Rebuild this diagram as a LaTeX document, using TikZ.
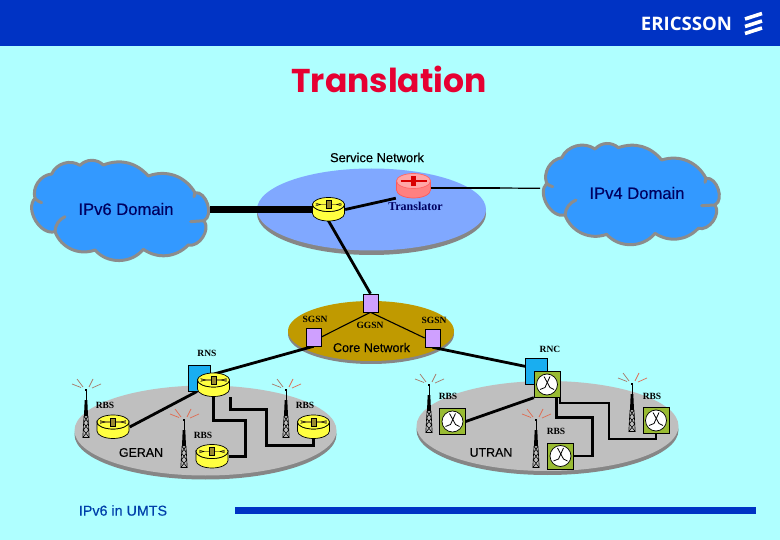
\documentclass[tikz,border=0pt]{standalone}
\usepackage{fontspec}
\setmainfont{Liberation Sans}[FakeBold=0.35]
\newfontfamily\serifl{Liberation Serif}
\newfontfamily\ttlfont{Poppins}
\newfontfamily\logofont{Open Sans}
\definecolor{bgc}{HTML}{AFFFFF}
\definecolor{barc}{HTML}{0033C4}
\definecolor{cloudc}{HTML}{3399FF}
\definecolor{cloude}{HTML}{8C8C8C}
\definecolor{svc}{HTML}{80A8FF}
\definecolor{corec}{HTML}{C09A00}
\definecolor{purp}{HTML}{CFA0FF}
\definecolor{rblue}{HTML}{19AEF0}
\definecolor{grn}{HTML}{99BB33}
\definecolor{navy}{HTML}{000060}
\definecolor{yel}{HTML}{FFFF40}
\definecolor{oliv}{HTML}{9A8A30}
\definecolor{raya}{HTML}{A87868}
\definecolor{rayb}{HTML}{E06A50}
\tikzset{
  hit/.style={rectangle,inner sep=0pt,minimum width=33pt,minimum height=24pt},
  sq/.style={rectangle,inner sep=0pt,minimum size=26pt},
  txt/.style={inner sep=0pt,font=\fontsize{#1}{#1}\selectfont},
  dom/.style={inner sep=0pt,text=navy,font=\fontsize{16.6}{17}\selectfont},
  slab/.style={inner sep=0pt,font=\serifl\bfseries\fontsize{9.5}{10}\selectfont,text=black},
  cloudp/.style={fill=cloudc,draw=cloude,line width=3pt,line join=round},
  curl/.style={draw=cloude,line width=3pt,line cap=round},
  link/.style={draw=black,line width=2.8pt,line join=miter},
  thinlink/.style={draw=black,line width=1.1pt},
  pbox/.style={rectangle,inner sep=0pt,fill=purp,draw=black,line width=.6pt,minimum width=15pt,minimum height=18pt},
  bbox/.style={rectangle,inner sep=0pt,fill=rblue,draw=black,line width=.6pt,minimum width=22pt,minimum height=26pt},
}
\newcommand{\plat}[5]{% cx cy rx ry colour
  \fill[#5] (#1,#2) ellipse [x radius=#3,y radius=#4];}
\newcommand{\routerdraw}[4]{% x y body top
 \begin{scope}[shift={(#1,#2)}]
  \path[fill=#3,draw=black,line width=.7pt] (-16,-5) -- (-16,4) arc[x radius=16,y radius=7.5,start angle=180,end angle=0] -- (16,-5) arc[x radius=16,y radius=7,start angle=0,end angle=180] -- cycle;
  \path[fill=#4,draw=black,line width=.7pt] (0,-5) ellipse [x radius=16,y radius=7];
  \draw[oliv,line width=1.2pt] (-13,-5) -- (13,-5);
  \fill[oliv] (-2.5,-9) rectangle (2.5,-1);
  \draw[black,line width=.4pt] (-2.5,-9) rectangle (2.5,-1);
  \draw[black,line width=.4pt] (-13,-6.5) -- (-8,-5) -- (-13,-3.5) (13,-6.5) -- (8,-5) -- (13,-3.5);
 \end{scope}}
\newcommand{\transdraw}[2]{%
 \begin{scope}[shift={(#1,#2)}]
  \path[fill=red!50!white,draw=red!65!white,line width=.7pt] (-17,-5) -- (-17,4) arc[x radius=17,y radius=8,start angle=180,end angle=0] -- (17,-5) arc[x radius=17,y radius=7,start angle=0,end angle=180] -- cycle;
  \path[fill=red!35!white,draw=red!60!white,line width=.7pt] (0,-5) ellipse [x radius=17,y radius=7.5];
  \draw[red!85!black,line width=1.4pt] (-13,-5) -- (13,-5);
  \fill[red!85!black] (-2.5,-10) rectangle (2.5,0);
 \end{scope}}
\newcommand{\switchdraw}[2]{%
 \begin{scope}[shift={(#1,#2)}]
  \path[fill=grn,draw=black,line width=.6pt] (-13,-13) rectangle (13,13);
  \path[fill=white,draw=black,line width=.7pt] (0,0) circle (10.5);
  \draw[black,line width=.8pt] (-3,-8) -- (3,3) -- (7,5);
  \draw[black,line width=.8pt] (3,-8) -- (-2,3) -- (-7,5);
 \end{scope}}
\newcommand{\towerdraw}[4]{% x y(tip) col1 col2
 \begin{scope}[shift={(#1,#2)}]
  \draw[#3,line width=.7pt] (-14,-6) -- (-5,-2.5) (-9,-11) -- (-3,-3);
  \draw[#4,line width=.7pt] (7,-11) -- (3,-3) (15,-6) -- (6,-2);
  \fill[black] (-.5,0) rectangle (.5,10);
  \fill[black] (-1.2,-.8) rectangle (1.2,.8);
  \fill[black] (-1.3,10) -- (1.3,10) -- (2,26) -- (-2,26) -- cycle;
  \draw[black,line width=.6pt] (-2,26) -- (-3.2,47.5) -- (3.2,47.5) -- (2,26) (-2,26) -- (2.4,33) -- (-2.6,40) -- (3.2,47.5) (2,26) -- (-2.4,33) -- (2.6,40) -- (-3.2,47.5);
 \end{scope}}
\begin{document}
\begin{tikzpicture}[x=1pt,y=1pt,yscale=-1]
\useasboundingbox (0,0) rectangle (780,540);
\fill[bgc] (0,0) rectangle (780,540);
\fill[barc] (0,0) rectangle (780,46.5);
\node[inner sep=0pt,text=white,font=\logofont\bfseries\fontsize{18.6}{19}\selectfont] (logo) at (686.5,24) {ERICSSON};
\draw[white,line width=3.6pt] (745,19) -- (762,13.5) (745,26.5) -- (762,21) (745,33.5) -- (762,28);
\node[inner sep=0pt,text={rgb,255:red,230;green,0;blue,50},font=\ttlfont\bfseries\fontsize{33}{35}\selectfont] (title) at (389,79) {Translation};
\node[txt=12.9] (sn) at (377,157.5) {Service Network};
% platforms
\plat{371.5}{213.5}{114.5}{41.5}{gray!95}
\plat{371.5}{209.5}{114.5}{41}{svc}
\plat{371}{334}{83}{30}{gray!95}
\plat{371}{331}{83}{30}{corec}
\plat{205.5}{434.5}{131}{45}{gray!95}
\plat{205.5}{430.5}{131}{45}{gray!50}
\plat{547.5}{430}{131}{45}{gray!95}
\plat{547.5}{426}{131}{45}{gray!50}
% clouds
\begin{scope}[shift={(20,150)},scale=1/3]
 \path[cloudp] (45,145) to[bend right=50] (95,72) to[bend right=50] (180,46) to[bend right=45] (250,45) to[bend right=35] (385,78) to[bend right=40] (525,128) to[bend right=80] (552,212) to[bend right=70] (505,285) to[bend right=40] (370,298) to[bend right=50] (225,300) to[bend right=45] (105,245) to[bend right=75] cycle;
 \path[curl] (45,145) to[bend left=15] (65,158);
 \path[curl] (105,245) to[bend right=30] (135,200);
 \path[curl] (552,212) -- (512,215);
 \path[curl] (525,128) -- (522,140);
 \coordinate (cl) at (570,178);
\end{scope}
\begin{scope}[shift={(530,135)},scale=1/3]
 \path[cloudp] (50,145) to[bend right=50] (95,68) to[bend right=50] (195,42) to[bend right=45] (265,38) to[bend right=35] (395,75) to[bend right=40] (528,130) to[bend right=80] (555,210) to[bend right=70] (505,280) to[bend right=40] (375,295) to[bend right=50] (230,298) to[bend right=45] (105,240) to[bend right=75] cycle;
 \path[curl] (50,145) to[bend left=15] (68,155);
 \path[curl] (105,240) to[bend right=30] (138,195);
 \path[curl] (555,210) -- (515,212);
 \path[curl] (528,130) -- (525,142);
 \coordinate (cr) at (30,160);
\end{scope}
\node[dom] (d6) at (126,209) {IPv6 Domain};
\node[dom] (d4) at (637,193) {IPv4 Domain};
% anchors for devices
\node[hit] (Rs) at (328.5,209.5) {};
\node[hit,minimum width=35pt] (Tr) at (413.5,186) {};
\node[hit] (R0) at (213.5,385) {};
\node[hit] (R1) at (113,427) {};
\node[hit] (R2) at (212,456.5) {};
\node[hit] (R3) at (313.5,427) {};
\node[sq] (S0) at (547,384.5) {};
\node[sq] (S1) at (452.5,421.5) {};
\node[sq] (S2) at (560.5,456) {};
\node[sq] (S3) at (656,420.5) {};
\node[bbox] (RNS) at (199.5,378) {};
\node[bbox] (RNC) at (536.5,371) {};
\node[pbox] (G) at (370.5,303) {};
\node[pbox] (SL) at (313.5,337) {};
\node[pbox] (SR) at (432.5,338) {};
\coordinate (Sm) at (500,188);
\coordinate (S0r) at (560,390);
\coordinate (R0l) at (197,391.5);
\coordinate (R0t) at (214,374);
\coordinate (Rb) at (328,220);
% connectors
\draw[black,line width=7pt] (cl) -- (Rs.west |- cl);
\draw[link] (Rs.east) -- (Tr.south west);
\draw[link,line width=2.2pt] (Tr.east |- Sm) -- (Sm);
\draw[black,line width=1.2pt] (Sm) -- (cr);
\draw[link] (Rb) -- (G.north);
\draw[thinlink] (G.south) -- (SL.east);
\draw[thinlink] (G.south) -- (SR.west);
\draw[link] (SL.south) -- (R0t);
\draw[link] (SR.south) -- (RNC.east);
\draw[link] (R0l) -- (R1.east);
\draw[link] (R0.south) -- ++(0,23) -- ++(32,0) |- (R2.east);
\draw[link] (R0.south east) -- ++(0,12) -- ++(36,0) -- ++(0,36) -| (R3.south);
\draw[link] (S0.south west) -- (S1.east);
\draw[link] ([xshift=-4pt]S0.south east) -- ++(0,19.5) -- ++(36,0) |- (S2.east);
\draw[link] (S0r) -- ++(0,13) -- ++(49,0) -- ++(0,36) -| (S3.south);
% devices
\node[pbox] at (G) {};
\node[pbox] at (SL) {};
\node[pbox] at (SR) {};
\node[bbox] at (RNS) {};
\node[bbox] at (RNC) {};
\routerdraw{328.5}{209.5}{yel}{yel}
\transdraw{413.5}{186}
\routerdraw{213.5}{385}{yel}{yel}
\routerdraw{113}{427}{yel}{yel}
\routerdraw{212}{456.5}{yel}{yel}
\routerdraw{313.5}{427}{yel}{yel}
\switchdraw{547}{384.5}
\switchdraw{452.5}{421.5}
\switchdraw{560.5}{456}
\switchdraw{656}{420.5}
\towerdraw{86}{390}{raya}{raya}
\towerdraw{184}{420}{rayb}{rayb}
\towerdraw{286}{390}{raya}{rayb}
\towerdraw{429}{385}{raya}{raya}
\towerdraw{536}{420}{rayb}{rayb}
\towerdraw{632}{384}{raya}{rayb}
% labels
\node[inner sep=0pt,text=navy,font=\serifl\bfseries\fontsize{12}{13}\selectfont] (tl) at (415.5,206.5) {Translator};
\node[slab] (l1) at (315,319) {SGSN};
\node[slab] (l2) at (370,325) {GGSN};
\node[slab] (l3) at (434,320) {SGSN};
\node[txt=12.6] (core) at (371.5,347.5) {Core Network};
\node[slab] (l4) at (207,353.5) {RNS};
\node[slab] (l5) at (550,349.5) {RNC};
\node[slab] (b1) at (105,405.5) {RBS};
\node[slab] (b2) at (203,435.5) {RBS};
\node[slab] (b3) at (305,405.5) {RBS};
\node[slab] (b4) at (448,396.5) {RBS};
\node[slab] (b5) at (556,431.5) {RBS};
\node[slab] (b6) at (652,396) {RBS};
\node[txt=12.4] (ge) at (141,452.5) {GERAN};
\node[txt=12.4] (ut) at (491,452.5) {UTRAN};
\node[inner sep=0pt,text={rgb,255:red,0;green,64;blue,170},font=\fontsize{14.3}{15}\selectfont] (foot) at (123,510.5) {IPv6 in UMTS};
\fill[barc] (235,507) rectangle (756,514);
\end{tikzpicture}
\end{document}
